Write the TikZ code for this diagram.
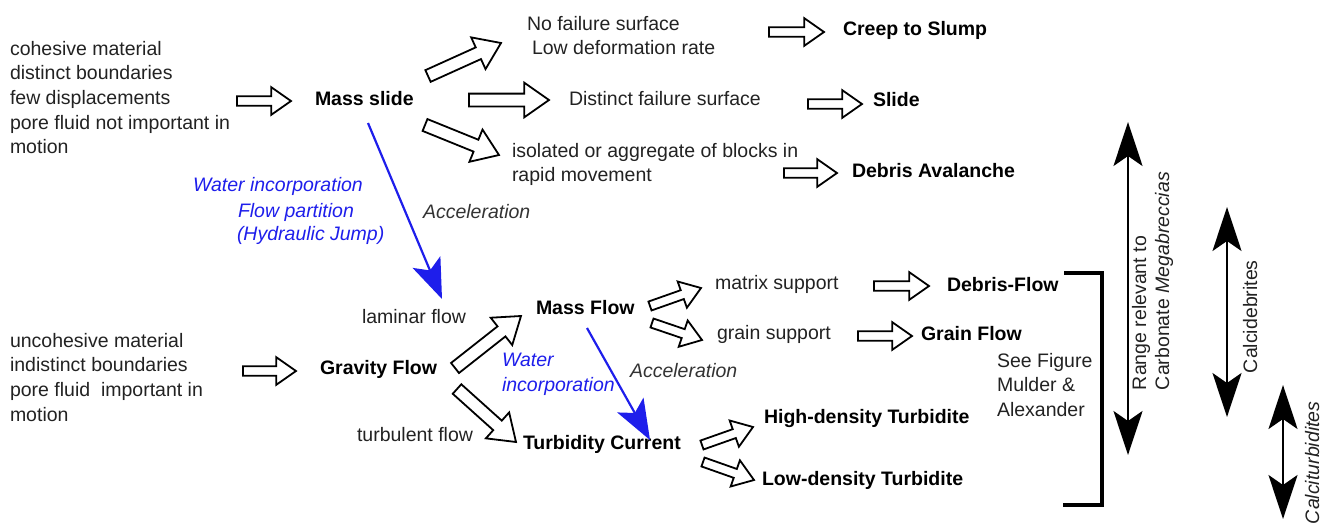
\documentclass[tikz,border=0pt]{standalone}
\usepackage{fontspec}
\setmainfont{Liberation Sans}
\usetikzlibrary{arrows.meta,shapes.arrows,calc}
\definecolor{txt}{HTML}{222222}
\definecolor{acc}{HTML}{333333}
\definecolor{blu}{RGB}{30,30,235}
\newcommand\fs{\fontsize{19.5}{24.7}\selectfont}
\newcommand\harr[3]{\path let \p1=(#2), \p2=(#3), \n1={veclen(\x2-\x1,\y2-\y1)}, \n2={atan2(\y2-\y1,\x2-\x1)} in node[#1, anchor=tip, rotate=\n2, minimum height=\n1] at (#3) {};}
\tikzset{
  every node/.style={inner sep=0pt, outer sep=0pt},
  lbl/.style={font=\fs, text=txt, anchor=base west},
  ml/.style={font=\fs, text=txt, anchor=north west, align=left},
  bl/.style={font=\fs\bfseries, text=black, anchor=base west},
  bluelbl/.style={font=\fs\itshape, text=blu, anchor=base west, align=left},
  acclbl/.style={font=\fs\itshape, text=acc, anchor=base west},
  rot/.style={font=\fs, text=txt, anchor=base west, rotate=90},
  harrow/.style={single arrow, draw=black, fill=white, line width=1.8pt, inner xsep=0pt, single arrow tip angle=70},
  hsmall/.style={harrow, inner ysep=3.8pt, single arrow head extend=9.2pt},
  hbig/.style={harrow, inner ysep=5.5pt, single arrow head extend=11pt},
  bluearrow/.style={draw=blu, line width=2.2pt, -{Stealth[length=40pt,width=30pt,inset=9pt]}},
  rangearrow/.style={draw=black, line width=2.2pt, {Stealth[length=44pt,width=29pt,inset=10pt]}-{Stealth[length=44pt,width=29pt,inset=10pt]}},
  bracket/.style={draw=black, line width=3.6pt},
}
\begin{document}
\begin{tikzpicture}[x=1pt,y=-1pt]
\useasboundingbox (0,0) rectangle (1334,523);

% ---- upper block ----
\node[ml] (coh) at (10,41) {cohesive material\\distinct boundaries\\few displacements\\pore fluid not important in\\motion};
\node[bl] (ms) at (315,105) {Mass slide};
\node[ml] (nofail) at (527,16) {No failure surface\\\hspace*{5pt}Low deformation rate};
\node[lbl] (dist) at (569,105) {Distinct failure surface};
\node[ml] (iso) at (512,143) {isolated or aggregate of blocks in\\rapid movement};
\node[bl] (creep) at (843,35) {Creep to Slump};
\node[bl] (slide) at (873,106) {Slide};
\node[bl] (deav) at (852,177) {Debris Avalanche};

% ---- blue labels ----
\node[bluelbl] (w1) at (193,191) {Water incorporation};
\node[bluelbl] (w2) at (238,217) {Flow partition};
\node[bluelbl] (w3) at (237,240) {(Hydraulic Jump)};
\node[acclbl] (acc1) at (423,218) {Acceleration};

% ---- lower block ----
\node[lbl] (lam) at (362,323) {laminar flow};
\node[ml] (uncoh) at (10,333) {uncohesive material\\indistinct boundaries\\pore fluid\ \ important in\\motion};
\node[bl] (gf) at (320,374) {Gravity Flow};
\node[lbl] (turb) at (357,441) {turbulent flow};
\node[bl] (mf) at (536,314) {Mass Flow};
\node[bl] (tc) at (523,449) {Turbidity Current};
\node[bluelbl, anchor=north west] (w4) at (502,353) {Water\\incorporation};
\node[acclbl] (acc2) at (630,377) {Acceleration};
\node[lbl] (mat) at (715,289) {matrix support};
\node[lbl] (gr) at (717,339) {grain support};
\node[bl] (df) at (947,291) {Debris-Flow};
\node[bl] (gfl) at (921,340) {Grain Flow};
\node[bl] (hdt) at (764,423) {High-density Turbidite};
\node[bl] (ldt) at (762,485) {Low-density Turbidite};
\node[ml] (see) at (997,353) {See Figure\\Mulder \&\\Alexander};

% ---- rotated labels ----
\node[rot] (r1) at (1146,390) {Range relevant to};
\node[rot] (r2) at (1169,390) {Carbonate \textit{Megabreccias}};
\node[rot] (r3) at (1257,373) {Calcidebrites};
\node[rot, font=\fs\itshape] (r4) at (1319,524) {Calciturbidites};

% ---- hollow arrows ----
\coordinate (a1s) at (237,101); \coordinate (a1e) at (291,101);
\coordinate (a2s) at (428,76);  \coordinate (a2e) at (501,43);
\coordinate (a3s) at (469,100); \coordinate (a3e) at (549,100);
\coordinate (a4s) at (425,125); \coordinate (a4e) at (499,155);
\coordinate (a5s) at (769,32);  \coordinate (a5e) at (824,32);
\coordinate (a6s) at (808,104); \coordinate (a6e) at (862,104);
\coordinate (a7s) at (784,173); \coordinate (a7e) at (837,173);
\coordinate (a8s) at (243,371); \coordinate (a8e) at (296,371);
\coordinate (a9s) at (455,368); \coordinate (a9e) at (521,316);
\coordinate (a10s) at (457,389); \coordinate (a10e) at (516,442);
\coordinate (a11s) at (650,306); \coordinate (a11e) at (701,288);
\coordinate (a12s) at (652,323); \coordinate (a12e) at (702,340);
\coordinate (a13s) at (874,286); \coordinate (a13e) at (929,286);
\coordinate (a14s) at (858,336); \coordinate (a14e) at (912,336);
\coordinate (a15s) at (702,445); \coordinate (a15e) at (753,427);
\coordinate (a16s) at (703,462); \coordinate (a16e) at (754,480);

\harr{hsmall}{a1s}{a1e}
\harr{hbig}{a2s}{a2e}
\harr{hbig}{a3s}{a3e}
\harr{hbig}{a4s}{a4e}
\harr{hsmall}{a5s}{a5e}
\harr{hsmall}{a6s}{a6e}
\harr{hsmall}{a7s}{a7e}
\harr{hsmall}{a8s}{a8e}
\harr{hbig}{a9s}{a9e}
\harr{hbig}{a10s}{a10e}
\harr{hsmall}{a11s}{a11e}
\harr{hsmall}{a12s}{a12e}
\harr{hsmall}{a13s}{a13e}
\harr{hsmall}{a14s}{a14e}
\harr{hsmall}{a15s}{a15e}
\harr{hsmall}{a16s}{a16e}

% ---- blue arrows ----
\coordinate (b1s) at (368,123); \coordinate (b1e) at (442,299);
\coordinate (b2s) at (587,328); \coordinate (b2e) at (650,440);
\draw[bluearrow] (b1s) -- (b1e);
\draw[bluearrow] (b2s) -- (b2e);

% ---- bracket ----
\coordinate (k1) at (1064,273); \coordinate (k2) at (1102,273);
\coordinate (k3) at (1102,505); \coordinate (k4) at (1063,505);
\draw[bracket] (k1) -- (k2) -- (k3) -- (k4);

% ---- range arrows ----
\coordinate (ra1) at (1128,122); \coordinate (ra2) at (1128,455);
\coordinate (rb1) at (1227,207); \coordinate (rb2) at (1227,417);
\coordinate (rc1) at (1283,385); \coordinate (rc2) at (1283,519);
\draw[rangearrow] (ra1) -- (ra2);
\draw[rangearrow] (rb1) -- (rb2);
\draw[rangearrow] (rc1) -- (rc2);
\end{tikzpicture}
\end{document}
